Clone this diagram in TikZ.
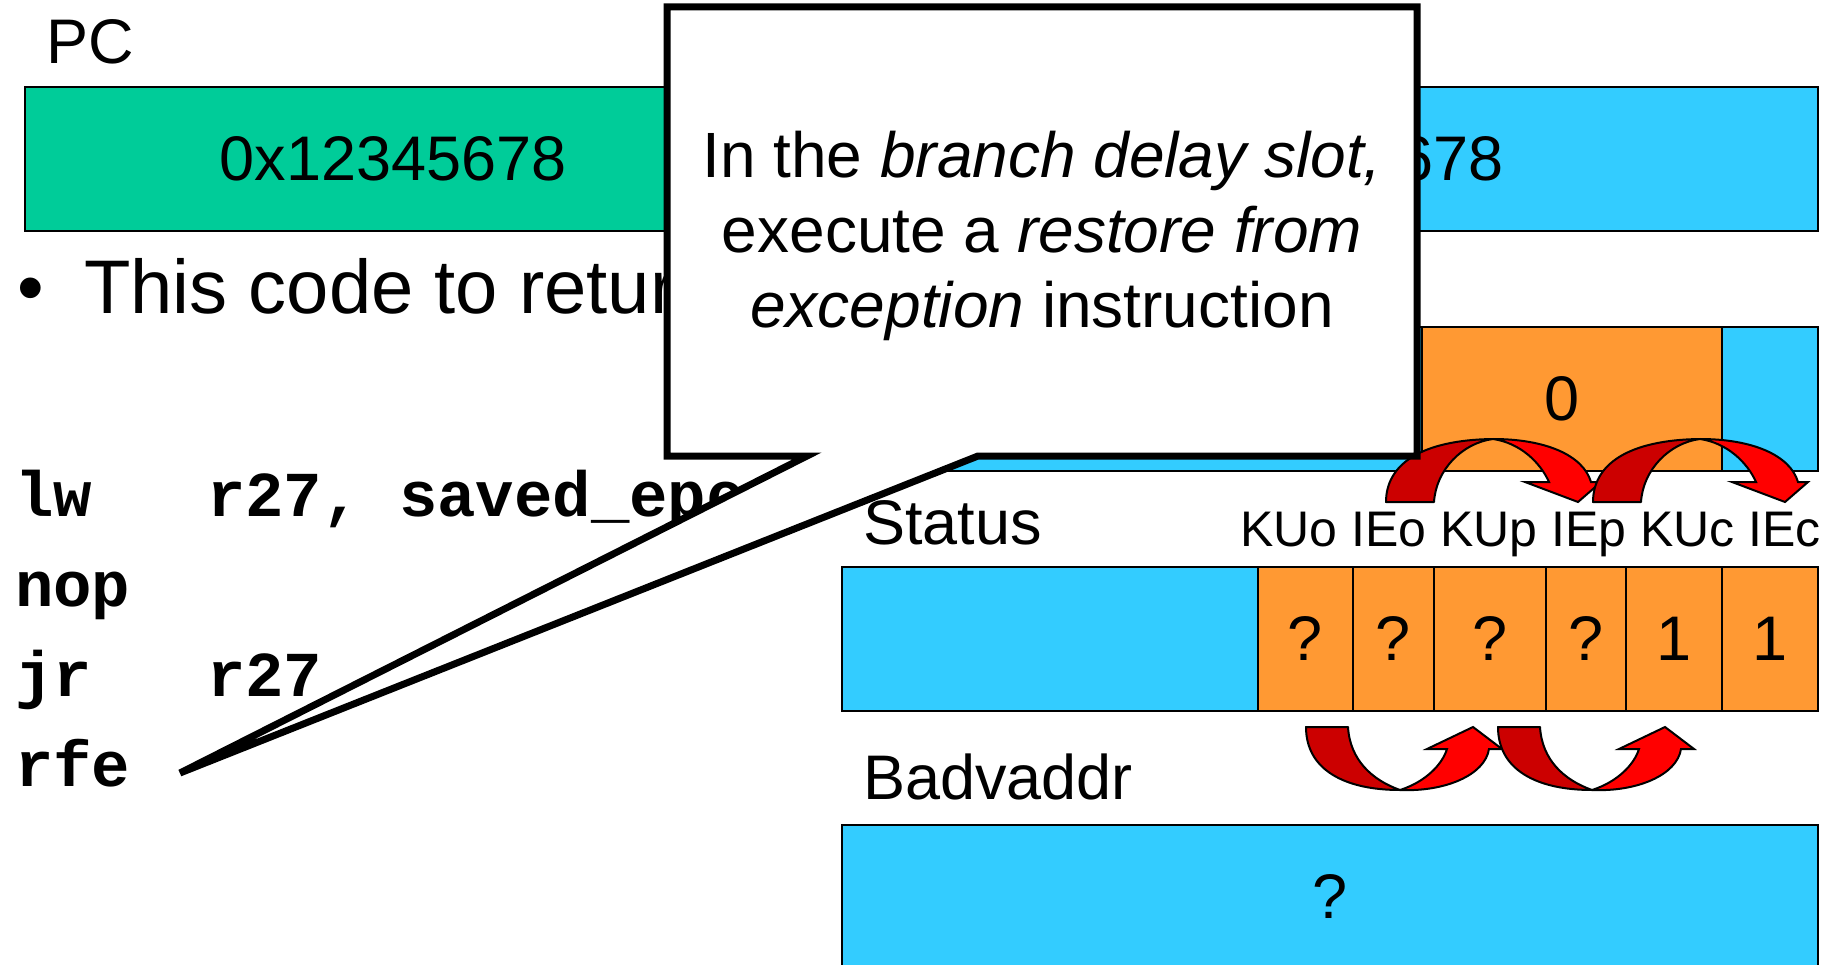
\documentclass[tikz,border=0pt]{standalone}
\usepackage{fontspec}
\setmainfont{Liberation Sans}
\newfontfamily\codefont{Liberation Mono}
\definecolor{pcgreen}{HTML}{00CC99}
\definecolor{regblue}{HTML}{33CCFF}
\definecolor{regorange}{HTML}{FF9933}
\definecolor{arrdark}{HTML}{CC0000}
\definecolor{arrlight}{HTML}{FF0000}
\begin{document}
\begin{tikzpicture}[x=1pt,y=-1pt,
  regbox/.style={draw=black, line width=2pt, inner sep=0pt, minimum height=144pt, font=\fontsize{63}{75}\selectfont},
  bitcell/.style={regbox, fill=regorange},
  lbl/.style={anchor=base west, inner sep=0pt, font=\fontsize{63}{75}\selectfont},
  codeline/.style={anchor=base west, inner sep=0pt, font=\codefont\bfseries\fontsize{64}{76}\selectfont},
  darkpart/.style={fill=arrdark, draw=black, line width=2pt, line join=round},
  lightpart/.style={fill=arrlight, draw=black, line width=2pt, line join=miter},
  calloutshape/.style={fill=white, draw=black, line width=7pt, line join=miter},
  cltext/.style={anchor=base, inner sep=0pt, font=\fontsize{64}{75}\selectfont}
]
\useasboundingbox (0,0) rectangle (1821,965);
\fill[white] (0,0) rectangle (1821,965);

% PC and EPC
\node[lbl] (pclbl) at (46,64) {PC};
\node[regbox, fill=pcgreen, minimum width=736pt] (pc) at (393,159) {0x12345678};
\node[regbox, fill=regblue, minimum width=976pt] (epc) at (1330,159) {0x12345678};

% bullet text
\node[anchor=base west, inner sep=0pt, font=\fontsize{76}{90}\selectfont] (bul) at (17,314) {•};
\node[anchor=base west, inner sep=0pt, font=\fontsize{76}{90}\selectfont] (item) at (84,314) {This code to return};

% Cause
\node[regbox, fill=regblue, minimum width=976pt] (cause) at (1330,399) {};
\node[regbox, fill=regorange, minimum width=300pt] (exccode) at (1572,399) {};
\node[inner sep=0pt, font=\fontsize{63}{75}\selectfont] (exctext) at (1562,399) {0};

% Status
\node[lbl] (statuslbl) at (863,544) {Status};
\node[anchor=base west, inner sep=0pt, font=\fontsize{50}{60}\selectfont] (fields) at (1240,546) {KUo IEo KUp IEp KUc IEc};
\node[regbox, fill=regblue, minimum width=976pt] (status) at (1330,639) {};
\node[bitcell, minimum width=95pt] (kuo) at (1305.5,639) {?};
\node[bitcell, minimum width=81pt] (ieo) at (1393.5,639) {?};
\node[bitcell, minimum width=112pt] (kup) at (1490,639) {?};
\node[bitcell, minimum width=80pt] (iep) at (1586,639) {?};
\node[bitcell, minimum width=96pt] (kuc) at (1674,639) {1};
\node[bitcell, minimum width=96pt] (iec) at (1770,639) {1};

% Badvaddr
\node[lbl] (badlbl) at (863,799) {Badvaddr};
\node[regbox, fill=regblue, minimum width=976pt] (bad) at (1330,897) {?};

% code
\node[codeline] (c1) at (15,516) {lw\ \ \ r27, saved\_epc};
\node[codeline] (c2) at (15,606) {nop};
\node[codeline] (c3) at (15,696) {jr\ \ \ r27};
\node[codeline] (c4) at (15,786) {rfe};

% upper curved arrows (over the Cause register)
\foreach \dx in {0,207} {
  \begin{scope}[shift={(\dx,0)}]
    \path[darkpart] (1386,502) .. controls (1386,465) and (1420,440) .. (1493,439)
      .. controls (1462,443) and (1436,470) .. (1434,502) -- cycle;
    \path[lightpart] (1493,439) .. controls (1545,439) and (1583,455) .. (1591,482)
      -- (1601,482) -- (1578,502) -- (1525,482) -- (1549,482)
      .. controls (1540,462) and (1520,443) .. (1493,439) -- cycle;
  \end{scope}
}

% lower curved arrows (under the Status register)
\foreach \dx in {0,192} {
  \begin{scope}[shift={(\dx,0)}]
    \path[darkpart] (1306,727) -- (1348,727) .. controls (1350,760) and (1372,780) .. (1400,790)
      .. controls (1345,790) and (1306,770) .. (1306,727) -- cycle;
    \path[lightpart] (1400,790) .. controls (1445,792) and (1485,775) .. (1489,749)
      -- (1502,749) -- (1473,727) -- (1427,749) -- (1447,749)
      .. controls (1442,765) and (1425,782) .. (1400,790) -- cycle;
  \end{scope}
}

% callout
\coordinate (tip) at (180,773);
\path[calloutshape] (667,7) -- (1417,7) -- (1417,456) -- (978,456) -- (tip) -- (807,456) -- (667,456) -- cycle;
\node[cltext] (t1) at (1042,178) {In the \textit{branch delay slot,}};
\node[cltext] (t2) at (1042,253) {execute a \textit{restore from}};
\node[cltext] (t3) at (1042,328) {\textit{exception} instruction};
\end{tikzpicture}
\end{document}
